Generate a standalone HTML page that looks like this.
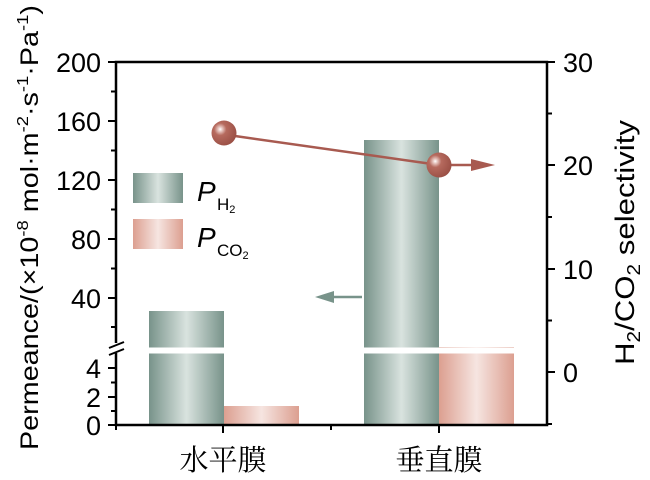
<!DOCTYPE html>
<html><head><meta charset="utf-8"><style>body{margin:0;background:#fff}svg{display:block}</style></head>
<body>
<svg width="650" height="480" viewBox="0 0 650 480" font-family="Liberation Sans, sans-serif">
<defs>
<linearGradient id="g" x1="0" x2="1" y1="0" y2="0">
<stop offset="0" stop-color="#78938a"/><stop offset="0.5" stop-color="#d9e3df"/><stop offset="1" stop-color="#78938a"/></linearGradient>
<linearGradient id="p" x1="0" x2="1" y1="0" y2="0">
<stop offset="0" stop-color="#dc9f90"/><stop offset="0.5" stop-color="#f6e5e1"/><stop offset="1" stop-color="#dc9f90"/></linearGradient>
<radialGradient id="s" cx="0.35" cy="0.35" r="0.7">
<stop offset="0" stop-color="#fff"/><stop offset="0.12" stop-color="#e8c8c2"/><stop offset="0.35" stop-color="#b66a5e"/><stop offset="1" stop-color="#9a4f45"/></radialGradient>
</defs>
<rect x="149" y="311" width="75" height="114" fill="url(#g)"/>
<rect x="224" y="406" width="75" height="19" fill="url(#p)"/>
<rect x="364" y="140" width="75" height="285" fill="url(#g)"/>
<rect x="439" y="347" width="75" height="78" fill="url(#p)"/>
<rect x="140" y="347.5" width="390" height="6" fill="#fff"/>
<rect x="133" y="173" width="50" height="30" fill="url(#g)"/>
<rect x="133" y="219" width="50" height="30" fill="url(#p)"/>
<text x="197" y="201" font-size="28" font-style="italic">P</text>
<text x="217" y="210" font-size="17">H<tspan font-size="11" dy="3">2</tspan></text>
<text x="197" y="247" font-size="28" font-style="italic">P</text>
<text x="217" y="256" font-size="17">CO<tspan font-size="11" dy="3">2</tspan></text>
<g stroke="#000" stroke-width="2.5" fill="none">
<path d="M116 62 H547 V425 H116 Z"/>
</g>
<rect x="110" y="343" width="14" height="10" fill="#fff"/>
<g stroke="#000" stroke-width="2">
<path d="M109 348 L124 342 M109 355 L124 349"/>
<path d="M108 62H116M108 121H116M108 180H116M108 239H116M108 298H116M108 368H116M108 397H116M108 425H116"/>
<path d="M111 91.5H116M111 150.5H116M111 209.5H116M111 268.5H116M111 327H116M111 382.5H116M111 411H116"/>
<path d="M547 62H555M547 165H555M547 269H555M547 372H555"/>
<path d="M547 113.5H552M547 217H552M547 320.5H552M547 424H552"/>
<path d="M223 425V433M439 425V433M331 425V430M116 425V430"/>
</g>
<g font-size="27" text-anchor="end">
<text x="101" y="72">200</text><text x="101" y="131">160</text><text x="101" y="190">120</text>
<text x="101" y="249">80</text><text x="101" y="308">40</text>
<text x="101" y="378">4</text><text x="101" y="407">2</text><text x="101" y="435">0</text>
</g>
<g font-size="27">
<text x="563" y="72">30</text><text x="563" y="175">20</text><text x="563" y="279">10</text><text x="563" y="382">0</text>
</g>
<line x1="235" y1="136" x2="432" y2="164" stroke="#a85a50" stroke-width="2.5"/>
<line x1="450" y1="165" x2="475" y2="165" stroke="#a85a50" stroke-width="2.5"/>
<polygon points="471,159 495,165 471,171" fill="#a85a50"/>
<circle cx="224" cy="133" r="12.5" fill="url(#s)"/>
<circle cx="439" cy="165" r="12.5" fill="url(#s)"/>
<line x1="330" y1="297" x2="362" y2="297" stroke="#78938a" stroke-width="2.5"/>
<polygon points="315,297 334,291 334,303" fill="#78938a"/>
<text transform="translate(38,450) rotate(-90)" font-size="25" textLength="445" lengthAdjust="spacingAndGlyphs">Permeance/(×10<tspan font-size="16" dy="-10">-8</tspan><tspan dy="10"> mol·m</tspan><tspan font-size="16" dy="-10">-2</tspan><tspan dy="10">·s</tspan><tspan font-size="16" dy="-10">-1</tspan><tspan dy="10">·Pa</tspan><tspan font-size="16" dy="-10">-1</tspan><tspan dy="10">)</tspan></text>
<text transform="translate(634,365) rotate(-90)" font-size="27" textLength="245" lengthAdjust="spacingAndGlyphs">H<tspan font-size="18" dy="6">2</tspan><tspan dy="-6">/CO</tspan><tspan font-size="18" dy="6">2</tspan><tspan dy="-6"> selectivity</tspan></text>
<g font-family="Liberation Serif, Noto Serif CJK SC, serif" font-size="29" text-anchor="middle">
<text x="223" y="470">水平膜</text><text x="439" y="470">垂直膜</text>
</g>
</svg>
</body></html>
